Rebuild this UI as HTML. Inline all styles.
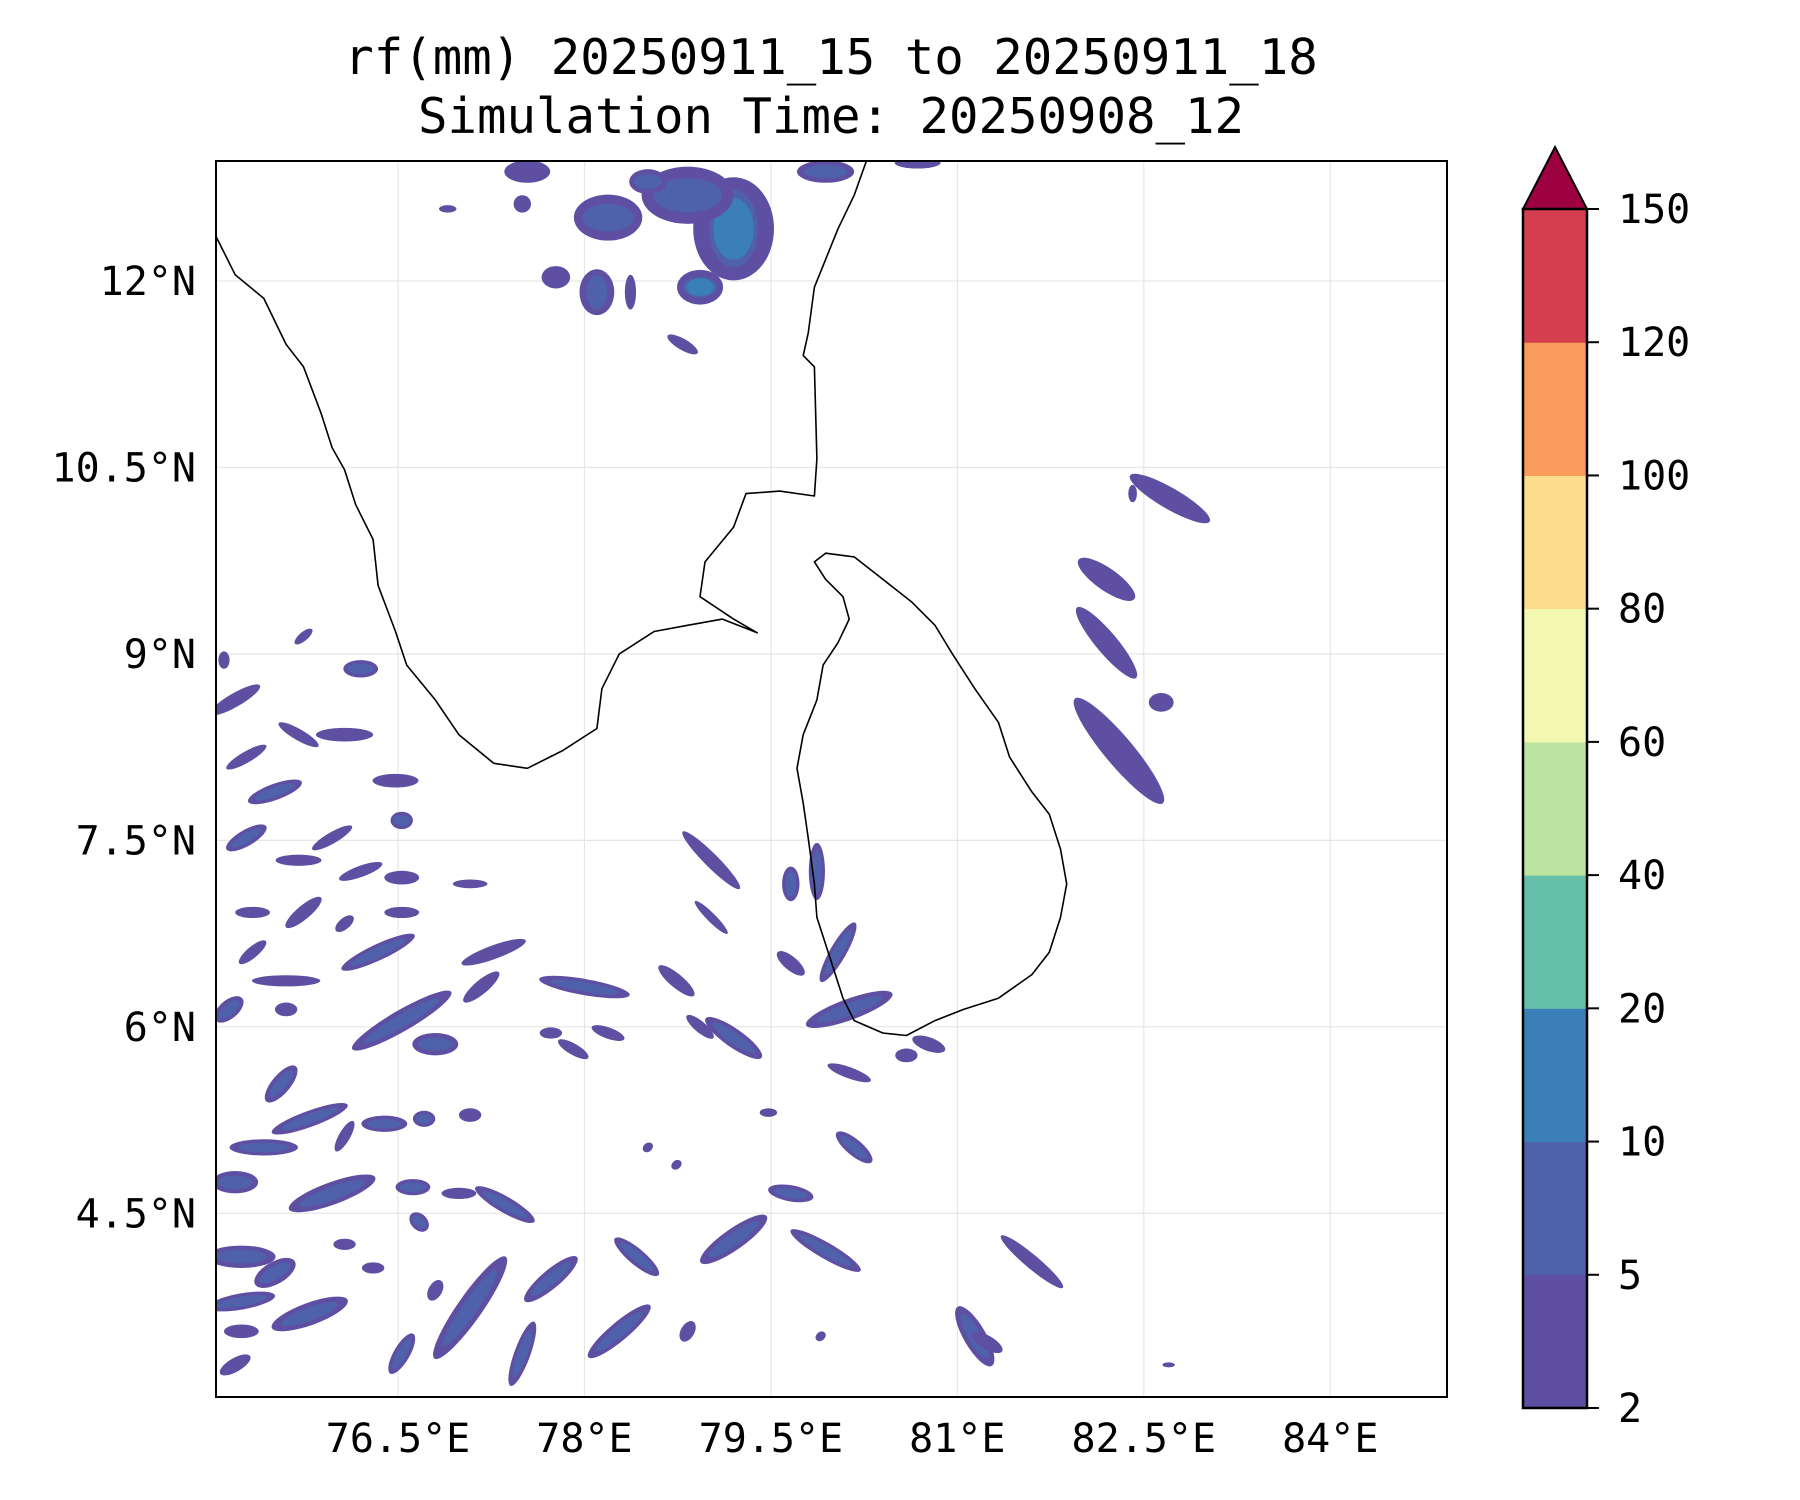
<!DOCTYPE html>
<html><head><meta charset="utf-8"><style>
html,body{margin:0;padding:0;background:#fff;}
svg{display:block;}
text{font-family:"DejaVu Sans Mono","Liberation Mono",monospace;fill:#000;}
</style></head>
<body>
<svg id="chart" width="1800" height="1500" viewBox="0 0 1800 1500" xmlns="http://www.w3.org/2000/svg">
<defs><clipPath id="plotclip"><rect x="216" y="161" width="1231" height="1236"/></clipPath></defs>
<text x="831" y="74" font-size="49" text-anchor="middle">rf(mm) 20250911_15 to 20250911_18</text>
<text x="831" y="133" font-size="49" text-anchor="middle">Simulation Time: 20250908_12</text>
<g id="grid"></g>
<g id="rain" clip-path="url(#plotclip)"></g>
<g id="coast" clip-path="url(#plotclip)"></g>
<rect x="216" y="161" width="1231" height="1236" fill="none" stroke="#000" stroke-width="2"/>
<g id="xlabels"></g>
<g id="ylabels"></g>
<g id="cbar"></g>
</svg>
<script>
const lonTicks=[76.5,78,79.5,81,82.5,84];
const lonLabels=["76.5°E","78°E","79.5°E","81°E","82.5°E","84°E"];
const latTicks=[12,10.5,9,7.5,6,4.5];
const latLabels=["12°N","10.5°N","9°N","7.5°N","6°N","4.5°N"];
const cbLevels=[2,5,10,20,40,60,80,100,120,150];
const cbColors=["#5e4fa2","#4f61aa","#3a7fb8","#66bfa8","#bde3a0","#f3f8b0","#fbdd8d","#f99b5a","#d53e4f"];
const cbExtendColor="#9e0142";
// blobs: [lon, lat, length(deg), width(deg), angle(deg)]
const topBlobs=[[79.20,12.42,0.83,0.65,90],[78.83,12.69,0.74,0.46,0],[78.19,12.51,0.55,0.37,0],[77.54,12.88,0.37,0.18,0],[78.10,11.91,0.37,0.28,90],[78.93,11.95,0.37,0.28,0],[77.77,12.03,0.23,0.18,0],[78.37,11.91,0.28,0.09,90],[78.79,11.49,0.28,0.09,-30],[80.68,12.95,0.37,0.09,0],[79.94,12.88,0.46,0.18,0],[76.90,12.58,0.14,0.06,0],[77.50,12.62,0.14,0.14,0],[78.51,12.80,0.30,0.20,0]];
const topLevels=[2,1,1,0,1,2,0,0,0,0,1,0,0,1];
const eastBlobs=[[82.71,10.25,0.74,0.17,-30],[82.41,10.29,0.14,0.07,90],[82.20,9.60,0.55,0.18,-35],[82.20,9.09,0.74,0.17,-50],[82.30,8.22,1.1,0.23,-50],[82.64,8.61,0.2,0.15,0],[82.70,3.28,0.1,0.04,0],[81.60,4.11,0.65,0.11,-40]];
const swBlobs=[[75.19,8.63,0.46,0.11,30],[75.28,8.17,0.37,0.09,30],[75.70,8.35,0.37,0.09,-30],[76.07,8.35,0.46,0.11,0],[76.20,8.88,0.28,0.14,0],[75.74,9.14,0.18,0.07,40],[75.10,8.95,0.14,0.09,90],[75.51,7.89,0.46,0.13,20],[76.48,7.98,0.37,0.11,0],[75.97,7.52,0.37,0.09,30],[76.53,7.66,0.18,0.14,0],[75.28,7.52,0.37,0.13,30],[75.70,7.34,0.37,0.09,0],[76.20,7.25,0.37,0.09,20],[76.53,7.20,0.28,0.11,0],[77.08,7.15,0.28,0.07,0],[75.33,6.92,0.28,0.09,0],[75.74,6.92,0.37,0.11,40],[76.07,6.83,0.18,0.09,40],[76.53,6.92,0.28,0.09,0],[76.34,6.60,0.65,0.13,25],[75.60,6.37,0.55,0.09,0],[75.33,6.60,0.28,0.09,40],[75.14,6.14,0.28,0.15,40],[76.53,6.05,0.92,0.17,30],[76.80,5.86,0.37,0.18,0],[75.60,6.14,0.18,0.11,0],[77.27,6.60,0.55,0.11,20],[77.17,6.32,0.37,0.11,40],[78.0,6.32,0.74,0.13,-10],[77.73,5.95,0.18,0.09,0],[77.91,5.82,0.28,0.09,-30],[78.19,5.95,0.28,0.09,-20],[78.74,6.37,0.37,0.11,-40],[79.02,6.88,0.37,0.07,-45],[79.02,7.34,0.65,0.11,-45],[79.66,7.15,0.28,0.14,90],[79.66,6.51,0.28,0.11,-40],[79.20,5.91,0.55,0.15,-35],[78.93,6.0,0.28,0.09,-40],[80.13,6.14,0.74,0.17,20],[80.04,6.60,0.55,0.13,60],[79.87,7.25,0.46,0.13,90],[80.77,5.86,0.28,0.11,-20],[80.59,5.77,0.18,0.11,0],[80.13,5.63,0.37,0.09,-20],[75.56,5.54,0.37,0.15,50],[75.79,5.26,0.65,0.13,20],[76.39,5.22,0.37,0.13,0],[76.71,5.26,0.18,0.13,0],[77.08,5.29,0.18,0.11,0],[76.07,5.12,0.28,0.09,60],[75.42,5.03,0.55,0.13,0],[75.19,4.75,0.37,0.18,0],[75.97,4.66,0.74,0.18,20],[76.62,4.71,0.28,0.13,0],[76.99,4.66,0.28,0.09,0],[77.36,4.57,0.55,0.13,-30],[76.67,4.43,0.18,0.13,-45],[75.24,4.15,0.55,0.18,0],[75.51,4.02,0.37,0.18,30],[75.24,3.79,0.55,0.13,10],[75.79,3.69,0.65,0.18,20],[75.24,3.55,0.28,0.11,0],[76.53,3.37,0.37,0.13,60],[76.07,4.25,0.18,0.09,0],[76.30,4.06,0.18,0.09,0],[76.80,3.88,0.18,0.11,60],[77.08,3.74,1.0,0.2,55],[77.50,3.37,0.55,0.13,70],[77.73,3.97,0.55,0.15,40],[78.28,3.55,0.65,0.15,40],[78.42,4.15,0.46,0.13,-40],[78.83,3.55,0.18,0.11,60],[79.20,4.29,0.65,0.17,35],[79.66,4.66,0.37,0.13,-10],[80.17,5.03,0.37,0.13,-40],[79.94,4.20,0.65,0.13,-30],[81.14,3.51,0.55,0.18,-60],[81.24,3.46,0.28,0.11,-30],[79.48,5.31,0.14,0.07,0],[79.90,3.51,0.09,0.07,40],[78.51,5.03,0.09,0.07,40],[78.74,4.89,0.09,0.07,40],[75.19,3.28,0.28,0.11,30]];
const indiaLon=[75.03,75.19,75.42,75.60,75.74,75.88,75.97,76.07,76.16,76.30,76.34,76.48,76.57,76.80,76.99,77.27,77.54,77.82,78.10,78.14,78.28,78.56,78.83,79.11,79.39,79.20,78.93,78.97,79.20,79.30,79.57,79.85,79.87,79.85,79.76,79.80,79.85,80.04,80.17,80.27];
const indiaLat=[12.37,12.05,11.86,11.49,11.31,10.94,10.66,10.48,10.20,9.92,9.55,9.18,8.91,8.63,8.35,8.12,8.08,8.22,8.40,8.72,9.00,9.18,9.23,9.28,9.17,9.28,9.46,9.74,10.02,10.29,10.31,10.27,10.57,11.31,11.40,11.58,11.95,12.42,12.69,12.97];
const lankaLon=[79.85,79.94,80.17,80.40,80.63,80.82,80.96,81.14,81.33,81.42,81.60,81.74,81.83,81.88,81.83,81.74,81.60,81.33,81.05,80.82,80.59,80.40,80.17,80.08,79.99,79.87,79.85,79.80,79.76,79.71,79.76,79.87,79.92,80.04,80.13,80.08,79.94];
const lankaLat=[9.74,9.81,9.78,9.60,9.42,9.23,9.00,8.72,8.45,8.17,7.89,7.71,7.43,7.15,6.88,6.60,6.42,6.23,6.14,6.05,5.93,5.95,6.05,6.23,6.51,6.88,7.15,7.52,7.80,8.08,8.35,8.63,8.91,9.09,9.28,9.46,9.60];

const PX=124.3;
function X(lon){return 398+(lon-76.5)*PX;}
function Y(lat){return 281+(12-lat)*PX;}
const NS="http://www.w3.org/2000/svg";
function mk(tag,attrs,parent){const e=document.createElementNS(NS,tag);for(const k in attrs)e.setAttribute(k,attrs[k]);parent.appendChild(e);return e;}

const grid=document.getElementById('grid');
lonTicks.forEach(function(v){
  const l=mk('line',{x1:X(v),x2:X(v),y1:161,y2:1397,stroke:'#e6e6e6','stroke-width':1.2},grid);
  
  
});
latTicks.forEach(function(v){
  const l=mk('line',{x1:216,x2:1447,y1:Y(v),y2:Y(v),stroke:'#e6e6e6','stroke-width':1.2},grid);
  
  
});
const xl=document.getElementById('xlabels');
lonTicks.forEach(function(v,i){
  const t=mk('text',{x:X(v),y:1452,'font-size':40,'text-anchor':'middle'},xl);t.textContent=lonLabels[i];
  
  
});
const yl=document.getElementById('ylabels');
latTicks.forEach(function(v,i){
  const t=mk('text',{x:196,y:Y(v)+14,'font-size':40,'text-anchor':'end'},yl);t.textContent=latLabels[i];
  
  
});

const rain=document.getElementById('rain');
function drawBlob(b,lvl){
  const cx=X(b[0]),cy=Y(b[1]),rx=b[2]*PX/2,ry=b[3]*PX/2;
  const tr='rotate('+(-b[4])+' '+cx+' '+cy+')';
  const o=mk('ellipse',{cx:cx,cy:cy,rx:rx,ry:ry,fill:cbColors[0],transform:tr},rain);
  
  
  if(lvl>=1){
    const m=mk('ellipse',{cx:cx,cy:cy,rx:rx*0.75,ry:ry*0.6,fill:cbColors[1],transform:tr},rain);
    
    
  }
  if(lvl>=2){
    const n=mk('ellipse',{cx:cx,cy:cy,rx:rx*0.6,ry:ry*0.5,fill:cbColors[2],transform:tr},rain);
    
    
  }
}
topBlobs.forEach(function(b,i){drawBlob(b,topLevels[i]);});
eastBlobs.forEach(function(b){drawBlob(b,0);});
swBlobs.forEach(function(b){drawBlob(b,b[3]>=0.13?1:0);});

const coast=document.getElementById('coast');
function poly(lons,lats,closed,name){
  let d='';lons.forEach(function(v,i){d+=(i?'L':'M')+X(v).toFixed(1)+','+Y(lats[i]).toFixed(1);});
  if(closed)d+='Z';
  const p=mk('path',{d:d,fill:'none',stroke:'#000','stroke-width':1.6,'stroke-linejoin':'round'},coast);
  
  
}
poly(indiaLon,indiaLat,false,'india-coastline');
poly(lankaLon,lankaLat,true,'sri-lanka-coastline');

const cb=document.getElementById('cbar');
const cbX=1523,cbW=64,cbTop=209,cbBot=1408,seg=(cbBot-cbTop)/(cbLevels.length-1);
cbColors.forEach(function(c,i){
  const r=mk('rect',{x:cbX,y:cbBot-(i+1)*seg,width:cbW,height:seg+0.5,fill:c},cb);
  
  
});
const tri=mk('polygon',{points:cbX+','+cbTop+' '+(cbX+cbW/2)+',147 '+(cbX+cbW)+','+cbTop,fill:cbExtendColor,stroke:'#000','stroke-width':2},cb);


const fr=mk('rect',{x:cbX,y:cbTop,width:cbW,height:cbBot-cbTop,fill:'none',stroke:'#000','stroke-width':2.5},cb);


cbLevels.forEach(function(v,i){
  const y=cbBot-i*seg;
  const tk=mk('line',{x1:cbX+cbW,x2:cbX+cbW+12,y1:y,y2:y,stroke:'#000','stroke-width':2},cb);
  
  
  const t=mk('text',{x:cbX+cbW+31,y:y+14,'font-size':40},cb);t.textContent=String(v);
  
  
});
</script>
</body></html>
